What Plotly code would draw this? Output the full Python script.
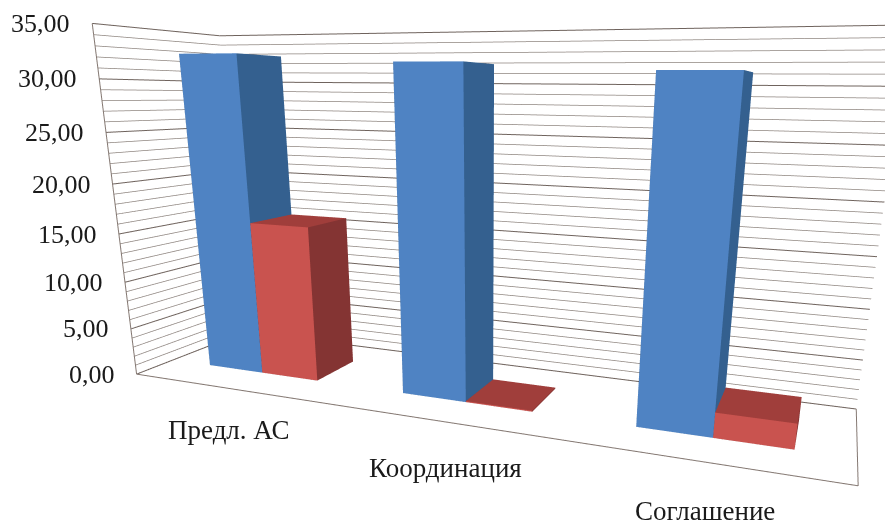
import plotly.graph_objects as go

# Chart data
categories = ["Предл. АС", "Координация", "Соглашение"]
blue_values = [32.5, 31.7, 31.0]
red_values = [16.1, 0.1, 2.4]
tick_values = [0, 5, 10, 15, 20, 25, 30, 35]
tick_labels = ["0,00", "5,00", "10,00", "15,00", "20,00", "25,00", "30,00", "35,00"]
z_top = 35
minor_step = 1

# Cluster geometry in category units
half_cluster = 0.289
depth_inset = 0.303

# Pixel offsets of the category captions from the floor's front edge
caption_xshift = [0, 4, 2]
caption_yshift = [-42, -47, -49]

BLUE = dict(front="#4f83c3", side="#34608f", top="#3a6ea6")
RED = dict(front="#c9534f", side="#843433", top="#a03e3b")
GRID = "#8f8680"
GRID_MAJOR = "#6f635d"
FRAME = "#857973"
SERIF = "Liberation Serif"
TEXT = "#1a1a1a"


def bar(x0, x1, height, shades):
    """Cuboid standing on the floor between x0 and x1."""
    y0, y1 = depth_inset, 1 - depth_inset
    xs = [x0, x1, x1, x0, x0, x1, x1, x0]
    ys = [y0, y0, y1, y1, y0, y0, y1, y1]
    zs = [0, 0, 0, 0, height, height, height, height]
    i = [0, 0, 1, 1, 3, 3, 0, 0, 4, 4, 0, 0]
    j = [1, 5, 2, 6, 2, 6, 3, 7, 5, 6, 1, 2]
    k = [5, 4, 6, 5, 6, 7, 7, 4, 6, 7, 2, 3]
    colors = [shades["front"]] * 2 + [shades["side"]] * 6 \
        + [shades["top"]] * 2 + [shades["side"]] * 2
    return go.Mesh3d(
        x=xs, y=ys, z=zs, i=i, j=j, k=k, facecolor=colors, flatshading=True,
        lighting=dict(ambient=1, diffuse=0, specular=0, roughness=1, fresnel=0),
        hoverinfo="skip",
    )


def wall_lines(levels, color, width):
    xs, ys, zs = [], [], []
    for level in levels:
        xs += [0, 0, len(categories), None]
        ys += [0, 1, 1, None]
        zs += [level, level, level, None]
    return go.Scatter3d(x=xs, y=ys, z=zs, mode="lines",
                        line=dict(color=color, width=width), hoverinfo="skip")


fig = go.Figure()

minor_levels = [v for v in range(0, z_top + 1, minor_step) if v not in tick_values]
fig.add_trace(wall_lines(minor_levels, GRID, 1.5))
fig.add_trace(wall_lines(tick_values, GRID_MAJOR, 2))

# Chart frame: left wall edge and floor outline
n = len(categories)
fig.add_trace(go.Scatter3d(
    x=[0, 0, n, n],
    y=[0, 0, 0, 1],
    z=[z_top, 0, 0, 0],
    mode="lines", line=dict(color=FRAME, width=2), hoverinfo="skip",
))

for idx, (b, r) in enumerate(zip(blue_values, red_values)):
    mid = idx + 0.5
    fig.add_trace(bar(mid - half_cluster, mid, b, BLUE))
    fig.add_trace(bar(mid, mid + half_cluster, r, RED))

annotations = [
    dict(x=0, y=0, z=v, text=t, showarrow=False, xanchor="right", xshift=-20,
         font=dict(family=SERIF, size=26, color=TEXT))
    for v, t in zip(tick_values, tick_labels)
]
annotations += [
    dict(x=i + 0.5, y=0, z=0, text=c, showarrow=False,
         xshift=caption_xshift[i], yshift=caption_yshift[i],
         font=dict(family=SERIF, size=27, color=TEXT))
    for i, c in enumerate(categories)
]

hidden = dict(visible=False)
fig.update_layout(
    width=1030, height=700, margin=dict(l=0, r=0, t=0, b=0),
    paper_bgcolor="white", showlegend=False, hovermode=False,
    scene=dict(
        domain=dict(x=[0, 1], y=[0, 1]),
        aspectmode="manual",
        aspectratio=dict(x=1, y=0.2522, z=0.4872),
        xaxis=dict(range=[0, n], **hidden),
        yaxis=dict(range=[0, 1], **hidden),
        zaxis=dict(range=[0, z_top], **hidden),
        camera=dict(
            eye=dict(x=0.4428, y=-1.0422, z=0.1612),
            center=dict(x=0.1072, y=-0.1462, z=-0.1295),
            up=dict(x=-0.1119, y=0.2685, z=0.9568),
        ),
        annotations=annotations,
    ),
)
fig.write_html("out.html", post_script="document.body.style.overflow='hidden';document.documentElement.style.overflow='hidden';")
